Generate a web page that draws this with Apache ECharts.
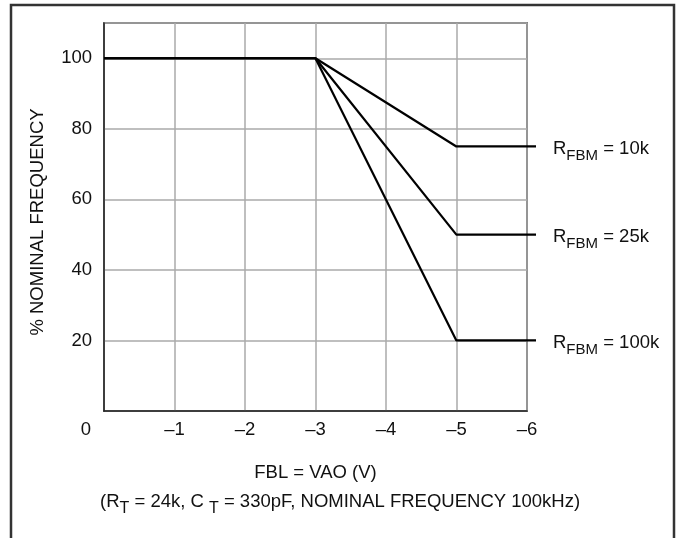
<!DOCTYPE html>
<html>
<head>
<meta charset="utf-8">
<script src="https://cdn.jsdelivr.net/npm/echarts@6/dist/echarts.min.js"></script>
<style>
html,body{margin:0;padding:0;background:#fff;}
#chart{width:683px;height:538px;}
</style>
</head>
<body>
<div id="chart"></div>
<script>
const xPoints = [0, -3, -5, -6.13];
const rfbm10k = [100, 100, 75, 75];
const rfbm25k = [100, 100, 50, 50];
const rfbm100k = [100, 100, 20, 20];
const seriesNames = ['10k', '25k', '100k'];
const xTicks = [0, -1, -2, -3, -4, -5, -6];
const yTicks = [20, 40, 60, 80, 100];

const FONT = 'Liberation Sans, Arial, sans-serif';
const FS = 18.5;
const chart = echarts.init(document.getElementById('chart'));

const xMinExt = xPoints[xPoints.length - 1];

function mk(name, vals) {
  const n = xPoints.length;
  return {
    type: 'line',
    name: name,
    xAxisIndex: 1,
    yAxisIndex: 1,
    data: xPoints.map((x, i) => [x, vals[i]]),
    symbol: 'none',
    showSymbol: false,
    clip: false,
    lineStyle: { color: '#000', width: 2.2 },
    emphasis: { disabled: true },
    animation: false,
    markPoint: {
      symbol: 'circle',
      symbolSize: 0,
      silent: true,
      animation: false,
      data: [{
        coord: [xPoints[n - 1], vals[n - 1]],
        label: {
          show: true,
          position: 'right',
          distance: 17,
          offset: [0, 2],
          formatter: '{r|R}{s|FBM}{r| = ' + name + '}',
          rich: {
            r: { fontSize: FS, color: '#111', fontFamily: FONT, lineHeight: 30 },
            s: { fontSize: 15, color: '#111', fontFamily: FONT, lineHeight: 14, verticalAlign: 'bottom' }
          }
        }
      }]
    }
  };
}

const option = {
  animation: false,
  backgroundColor: '#fff',
  grid: [
    {
      left: 104, right: 156, top: 23, bottom: 127,
      show: true, borderColor: '#222', borderWidth: 1.5, containLabel: false
    },
    {
      left: 104, right: 147, top: 23, bottom: 127,
      show: false, containLabel: false
    }
  ],
  xAxis: [{
    type: 'value',
    gridIndex: 0,
    min: -6, max: 0, interval: 1, inverse: true,
    name: 'FBL = VAO (V)',
    nameLocation: 'middle',
    nameGap: 52,
    nameTextStyle: { fontSize: FS, color: '#111', fontFamily: FONT },
    axisLine: { show: true, lineStyle: { color: '#222', width: 1.5 } },
    axisTick: { show: false },
    splitLine: { show: true, lineStyle: { color: '#aaa', width: 1.5 } },
    axisLabel: {
      margin: 9,
      fontSize: FS, color: '#111', fontFamily: FONT,
      formatter: function (v) {
        if (v === 0) return '{z|0}';
        return String(v).replace('-', '\u2013');
      },
      rich: { z: { fontSize: FS, color: '#111', fontFamily: FONT, padding: [0, 36, 0, 0] } }
    }
  }, {
    type: 'value',
    gridIndex: 1,
    min: xMinExt, max: 0, inverse: true,
    show: false
  }],
  yAxis: [{
    type: 'value',
    gridIndex: 0,
    min: 0, max: 110, interval: 20,
    name: '% NOMINAL FREQUENCY',
    nameLocation: 'middle',
    nameGap: 57,
    nameTextStyle: { fontSize: FS, color: '#111', fontFamily: FONT, padding: [0, 0, 0, -10] },
    axisLine: { show: true, lineStyle: { color: '#222', width: 1.5 } },
    axisTick: { show: false },
    splitLine: { show: true, lineStyle: { color: '#aaa', width: 1.5 } },
    axisLabel: {
      margin: 12,
      fontSize: FS, color: '#111', fontFamily: FONT,
      showMaxLabel: false,
      formatter: function (v) { return yTicks.indexOf(v) >= 0 ? String(v) : ''; }
    }
  }, {
    type: 'value',
    gridIndex: 1,
    min: 0, max: 110,
    show: false
  }],
  series: [mk(seriesNames[0], rfbm10k), mk(seriesNames[1], rfbm25k), mk(seriesNames[2], rfbm100k)],
  graphic: [
    {
      type: 'rect',
      shape: { x: 11, y: 5, width: 663, height: 600 },
      style: { fill: 'none', stroke: '#333', lineWidth: 2.5 },
      silent: true
    },
    {
      type: 'text',
      left: 100,
      top: 492,
      style: {
        text: '{r|(R}{s|T}{r| = 24k, C }{s|T}{r| = 330pF, NOMINAL FREQUENCY 100kHz)}',
        rich: {
          r: { fontSize: FS, fill: '#111', fontFamily: FONT, lineHeight: 30 },
          s: { fontSize: 16, fill: '#111', fontFamily: FONT, lineHeight: 14, verticalAlign: 'bottom' }
        }
      }
    }
  ]
};
chart.setOption(option);
</script>
</body>
</html>
